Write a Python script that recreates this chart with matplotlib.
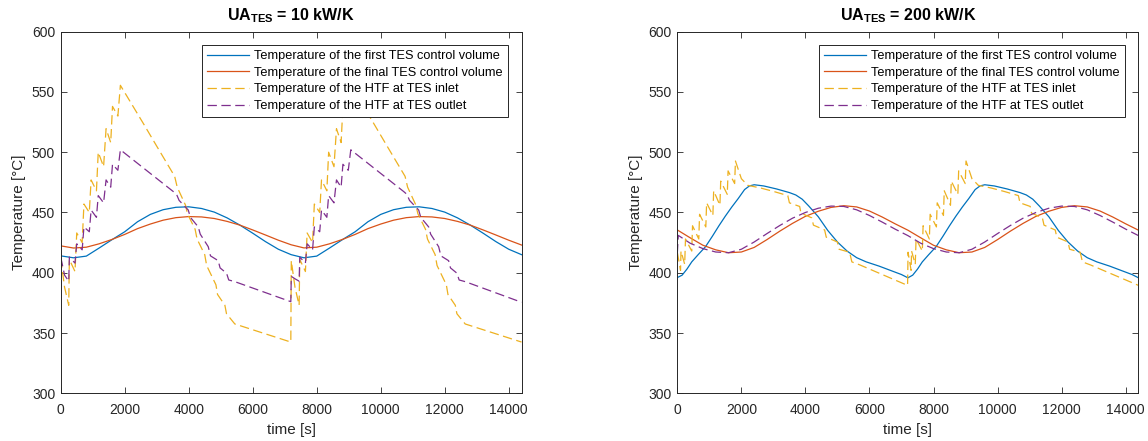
import numpy as np
import matplotlib
matplotlib.use("Agg")
import matplotlib.pyplot as plt

plt.rcParams["font.family"] = ["Liberation Sans", "DejaVu Sans"]
plt.rcParams["mathtext.fontset"] = "custom"
plt.rcParams["mathtext.rm"] = "Liberation Sans"
plt.rcParams["mathtext.bf"] = "Liberation Sans:bold"

# ---------------------------------------------------------------- data
# common time grid for the smooth storage temperatures [s]
t_grid = np.arange(0, 14401, 400)

# ---- UA_TES = 10 kW/K
first_cv_10 = [414.0, 412.4, 413.8, 420.5, 427.4, 434.0, 442.3, 448.4, 452.3, 454.3,
               454.7, 453.3, 450.3, 445.5, 439.5, 432.8, 425.8, 419.5, 415.0, 412.4,
               413.8, 420.5, 427.4, 434.0, 442.3, 448.4, 452.3, 454.3, 454.7, 453.3,
               450.3, 445.5, 439.5, 432.8, 425.8, 419.5, 415.0]
final_cv_10 = [422.3, 420.5, 421.2, 424.0, 427.6, 431.8, 436.6, 440.4, 443.6, 445.7,
               446.6, 446.3, 445.0, 442.6, 439.5, 435.5, 431.3, 427.0, 423.2, 420.6,
               421.2, 424.0, 427.6, 431.8, 436.6, 440.4, 443.6, 445.7, 446.6, 446.3,
               445.0, 442.6, 439.5, 435.5, 431.3, 427.0, 423.0]

htf_in_10_t = [0, 120, 250, 270, 446, 500, 670, 725, 893, 949, 1116, 1172, 1339, 1417,
               1562, 1618, 1786, 1864, 2600, 3000, 3560, 3640, 3900, 3960, 4200, 4260,
               4500, 4560, 4850, 4900, 5130, 5180, 5440, 7190,
               7205, 7320, 7450, 7470, 7646, 7700, 7870, 7925, 8093, 8149, 8316, 8372,
               8539, 8617, 8762, 8818, 8986, 9064, 9800, 10200, 10760, 10840, 11100,
               11160, 11400, 11460, 11700, 11760, 12050, 12100, 12330, 12380, 12640, 14400]
htf_in_10 = [412.0, 388.0, 373.0, 411.0, 401.0, 433.0, 425.0, 457.0, 450.0, 477.0, 468.0,
             500.0, 488.0, 519.5, 508.0, 538.0, 530.0, 555.5, 523.0, 505.0, 480.0, 471.0,
             456.0, 449.0, 436.0, 428.0, 415.0, 406.0, 390.0, 382.0, 373.0, 366.0, 357.5,
             342.5,
             410.0, 388.0, 373.0, 411.0, 401.0, 433.0, 425.0, 457.0, 450.0, 477.0, 468.0,
             500.0, 488.0, 519.5, 508.0, 538.0, 530.0, 555.5, 523.0, 505.0, 480.0, 471.0,
             456.0, 449.0, 436.0, 428.0, 415.0, 406.0, 390.0, 382.0, 373.0, 366.0, 357.5,
             342.5]

htf_out_10_t = [0, 120, 250, 270, 446, 500, 670, 725, 893, 949, 1116, 1172, 1339, 1417,
                1562, 1618, 1786, 1864, 3520, 3620, 3700, 3986, 4050, 4298, 4360, 4610,
                4680, 4921, 4980, 5182, 5250, 5442, 7190,
                7205, 7320, 7450, 7470, 7646, 7700, 7870, 7925, 8093, 8149, 8316, 8372,
                8539, 8617, 8762, 8818, 8986, 9064, 10720, 10820, 10900, 11186, 11250,
                11498, 11560, 11810, 11880, 12121, 12180, 12382, 12450, 12642, 14400]
htf_out_10 = [413.0, 398.0, 393.0, 413.0, 408.0, 424.0, 419.0, 438.0, 434.0, 452.0, 446.0,
              464.0, 458.0, 477.0, 471.0, 490.0, 485.0, 502.0, 467.3, 465.0, 460.0, 452.0,
              446.0, 438.0, 432.0, 421.6, 414.0, 410.0, 404.0, 399.6, 394.0, 392.6, 376.0,
              397.0, 395.0, 393.0, 413.0, 408.0, 424.0, 419.0, 438.0, 434.0, 452.0, 446.0,
              464.0, 458.0, 477.0, 471.0, 490.0, 485.0, 502.0, 467.3, 465.0, 460.0, 452.0,
              446.0, 438.0, 432.0, 421.6, 414.0, 410.0, 404.0, 399.6, 394.0, 392.6, 375.5]

# ---- UA_TES = 200 kW/K
first_cv_200_t = [0, 150, 300, 450, 650, 880, 1100, 1300, 1500, 1700, 1900, 2100, 2250,
                  2400, 2700, 3100, 3500, 3700, 3900, 4100, 4400, 4700, 5000, 5300, 5600,
                  5900, 6300, 6700, 7000, 7200,
                  7350, 7500, 7650, 7850, 8080, 8300, 8500, 8700, 8900, 9100, 9300, 9450,
                  9600, 9900, 10300, 10700, 10900, 11100, 11300, 11600, 11900, 12200,
                  12500, 12800, 13100, 13500, 13900, 14200, 14400]
first_cv_200 = [396.0, 398.0, 403.0, 409.0, 415.0, 421.6, 430.5, 439.0, 447.0, 454.5,
                461.5, 469.0, 472.0, 473.0, 472.0, 469.5, 466.5, 464.5, 461.0, 455.5,
                446.5, 435.0, 425.5, 418.0, 412.5, 409.0, 405.5, 401.5, 398.5, 395.8,
                398.0, 403.0, 409.0, 415.0, 421.6, 430.5, 439.0, 447.0, 454.5, 461.5,
                469.0, 472.0, 473.0, 472.0, 469.5, 466.5, 464.5, 461.0, 455.5, 446.5,
                435.0, 425.5, 418.0, 412.5, 409.0, 405.5, 401.5, 398.5, 395.8]
final_cv_200 = [435.5, 429.0, 422.8, 419.0, 416.6, 417.2, 421.0, 427.5, 434.5, 441.0,
                446.8, 451.0, 454.2, 455.6, 454.6, 451.2, 446.2, 440.6, 435.3, 429.0,
                422.8, 419.0, 416.6, 417.2, 421.0, 427.5, 434.5, 441.0, 446.8, 451.0,
                454.2, 455.6, 454.6, 451.2, 446.2, 440.6, 435.3]

htf_in_200_t = [0, 100, 115, 230, 255, 450, 475, 670, 695, 890, 915, 1110, 1135, 1330,
                1355, 1560, 1585, 1790, 1815, 2000, 2200, 2600, 3000, 3450, 3500, 3820,
                3860, 4200, 4250, 4600, 4650, 5000, 5050, 5380, 5450, 5700, 7190,
                7205, 7300, 7315, 7430, 7455, 7650, 7675, 7870, 7895, 8090, 8115, 8310,
                8335, 8530, 8555, 8760, 8785, 8990, 9015, 9200, 9400, 9800, 10200, 10650,
                10700, 11020, 11060, 11400, 11450, 11800, 11850, 12200, 12250, 12580,
                12650, 12900, 14400]
htf_in_200 = [417.0, 402.0, 418.0, 407.0, 428.0, 418.0, 439.0, 428.0, 448.5, 438.0, 458.0,
              447.5, 468.0, 456.0, 476.0, 465.0, 484.5, 474.0, 492.7, 478.0, 472.5, 470.3,
              467.5, 464.0, 458.0, 455.0, 449.5, 445.5, 439.5, 435.5, 429.5, 425.5, 419.5,
              417.0, 409.0, 406.5, 389.5,
              417.0, 402.0, 418.0, 407.0, 428.0, 418.0, 439.0, 428.0, 448.5, 438.0, 458.0,
              447.5, 468.0, 456.0, 476.0, 465.0, 484.5, 474.0, 492.7, 478.0, 472.5, 470.3,
              467.5, 464.0, 458.0, 455.0, 449.5, 445.5, 439.5, 435.5, 429.5, 425.5, 419.5,
              417.0, 409.0, 406.5, 389.5]

htf_out_200_t = [0, 30] + list(range(400, 14401, 400))
htf_out_200 = [416.0, 431.0, 424.5, 420.0, 417.2, 416.6, 419.5, 425.5, 432.5, 439.2,
               445.3, 450.0, 453.5, 455.3, 455.0, 452.2, 447.5, 442.0, 436.2, 430.8,
               424.5, 420.0, 417.2, 416.6, 419.5, 425.5, 432.5, 439.2, 445.3, 450.0,
               453.5, 455.3, 455.0, 452.2, 447.5, 442.0, 436.2, 430.8]

labels = ["Temperature of the first TES control volume",
          "Temperature of the final TES control volume",
          "Temperature of the HTF at TES inlet",
          "Temperature of the HTF at TES outlet"]
titles = ["10", "200"]
x_ticks = list(range(0, 14001, 2000))
y_ticks = list(range(300, 601, 50))

# ---------------------------------------------------------------- style
C_BLUE = "#0072BD"
C_ORANGE = "#D95319"
C_YELLOW = "#EDB120"
C_PURPLE = "#7E2F8E"
C_AX = "#262626"
LW = 0.9
DASH = (7.5, 3.6)

fig = plt.figure(figsize=(11.48, 4.41), dpi=100)
ax_l = fig.add_axes([0.0529, 0.1082, 0.4014, 0.8200])
ax_r = fig.add_axes([0.5900, 0.1082, 0.4017, 0.8200])

panels = [
    (ax_l, (t_grid, first_cv_10), (t_grid, final_cv_10),
     (htf_in_10_t, htf_in_10), (htf_out_10_t, htf_out_10), titles[0]),
    (ax_r, (first_cv_200_t, first_cv_200), (t_grid, final_cv_200),
     (htf_in_200_t, htf_in_200), (htf_out_200_t, htf_out_200), titles[1]),
]

for ax, s1, s2, s3, s4, ua in panels:
    ax.plot(*s1, color=C_BLUE, lw=LW, label=labels[0])
    ax.plot(*s2, color=C_ORANGE, lw=LW, label=labels[1])
    ax.plot(*s3, color=C_YELLOW, lw=LW, dashes=DASH, label=labels[2])
    ax.plot(*s4, color=C_PURPLE, lw=LW, dashes=DASH, label=labels[3])

    ax.set_xlim(0, 14400)
    ax.set_ylim(300, 600)
    ax.set_xticks(x_ticks)
    ax.set_yticks(y_ticks)
    ax.tick_params(direction="in", length=4, width=0.6, top=True, right=True,
                   colors=C_AX, labelsize=10)
    ax.tick_params(axis="x", pad=7)
    ax.tick_params(axis="y", pad=4)
    for sp in ax.spines.values():
        sp.set_color(C_AX)
        sp.set_linewidth(0.7)

    ax.set_xlabel("time [s]", fontsize=11, color=C_AX, labelpad=4)
    ax.set_ylabel("Temperature [°C]", fontsize=11, color=C_AX, labelpad=4)
    ax.set_title(r"$\mathbf{UA}_{\mathbf{TES}}$ = " + ua + " kW/K",
                 fontsize=11.5, fontweight="bold", pad=8, color="black")

    leg = ax.legend(loc="upper right", fontsize=9.2, frameon=True, fancybox=False,
                    framealpha=1, edgecolor=C_AX, borderaxespad=1.05,
                    handlelength=3.3, handletextpad=0.4, labelspacing=0.36,
                    borderpad=0.4)
    leg.get_frame().set_linewidth(0.7)
    for txt in leg.get_texts():
        txt.set_color("black")

fig.savefig("out.png", dpi=100)
